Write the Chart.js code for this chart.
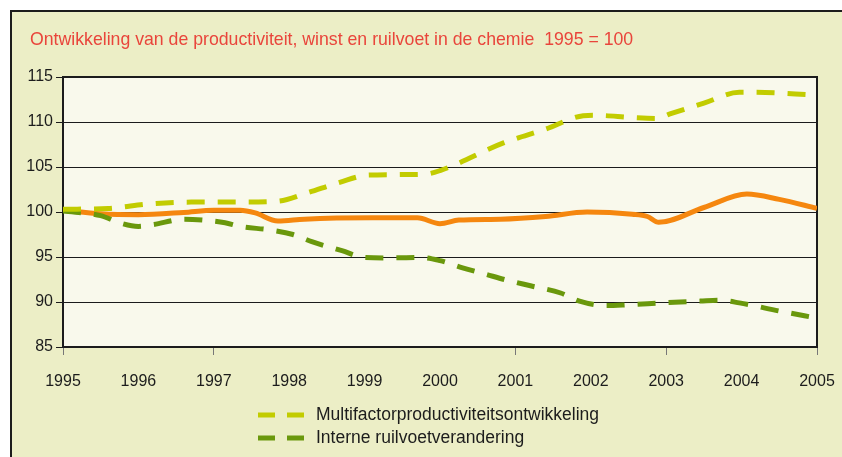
<!DOCTYPE html>
<html lang="nl">
<head>
<meta charset="UTF-8">
<title>Productiviteit chemie</title>
<script src="https://cdn.jsdelivr.net/npm/chart.js@4.4.1/dist/chart.umd.min.js"></script>
<style>
  html, body { margin: 0; background: #fff; overflow: hidden; font-family: "Liberation Sans", Arial, sans-serif; }
  #title { position: absolute; left: 30px; top: 29px; font-size: 17.7px; color: #E9453B; white-space: pre; }
  #wrap { position: absolute; left: 0; top: 0; width: 842px; height: 457px; }
  #legend { position: absolute; left: 258px; top: 403px; font-size: 17.5px; color: #1c1c1c; }
  #legend div { height: 23px; display: flex; align-items: center; }
  #legend svg { margin-right: 12px; }
</style>
<script>
// tick labels
var years = [1995, 1996, 1997, 1998, 1999, 2000, 2001, 2002, 2003, 2004, 2005];
var yTicks = [85, 90, 95, 100, 105, 110, 115];

// Multifactorproductiviteitsontwikkeling
var mfpX = [1995, 1995.6, 1996.15, 1996.7, 1997.35, 1997.85, 1998.23, 1998.67, 1999.05, 1999.8, 2000, 2000.85, 2001.4, 2001.9, 2002.05, 2002.55, 2002.87, 2003.05, 2003.5, 2003.97, 2004.15, 2005];
var mfpY = [100.3, 100.4, 100.9, 101.1, 101.1, 101.2, 102.1, 103.3, 104.1, 104.2, 104.6, 107.7, 109.2, 110.7, 110.75, 110.5, 110.4, 110.9, 112.1, 113.3, 113.3, 113.0];

// Interne ruilvoetverandering
var ruilX = [1995, 1995.5, 1995.75, 1996, 1996.2, 1996.6, 1996.85, 1997.15, 1997.35, 1997.75, 1998.05, 1998.3, 1998.7, 1999, 1999.35, 1999.75, 2000, 2000.3, 2000.6, 2000.9, 2001.2, 2001.6, 2001.85, 2002.2, 2002.5, 2002.95, 2003.45, 2003.7, 2003.97, 2004.5, 2005];
var ruilY = [100.1, 99.6, 98.8, 98.4, 98.6, 99.2, 99.1, 98.8, 98.4, 98.0, 97.5, 96.7, 95.7, 94.95, 94.9, 94.95, 94.6, 93.8, 93.1, 92.4, 91.8, 91.0, 90.1, 89.6, 89.7, 89.9, 90.1, 90.2, 89.9, 89.0, 88.2];

// winst (no legend entry)
var winstX = [1995, 1995.5, 1996, 1996.6, 1997, 1997.35, 1997.55, 1997.85, 1998.2, 1999.1, 1999.7, 2000, 2000.25, 2000.8, 2001.4, 2001.95, 2002.55, 2002.75, 2002.9, 2003.5, 2004.07, 2004.5, 2005];
var winstY = [100.2, 99.8, 99.7, 99.95, 100.2, 100.2, 99.9, 99.0, 99.2, 99.35, 99.35, 98.7, 99.1, 99.2, 99.5, 100.0, 99.75, 99.5, 98.85, 100.5, 102.0, 101.4, 100.4];

function pts(xs, ys) {
    var out = [];
    for (var i = 0; i < xs.length; i++) out.push({x: xs[i], y: ys[i]});
    return out;
}

var plotBg = {
    id: 'plotBg',
    beforeDraw: function (chart) {
        var a = chart.chartArea, c = chart.ctx;
        c.save();
        // outer frame: cream panel with a dark edge on top and left
        c.fillStyle = '#ECEEC6';
        c.fillRect(11, 11, chart.width - 11, chart.height - 11);
        c.fillStyle = '#1c1c1c';
        c.fillRect(10, 10, chart.width - 10, 2);
        c.fillRect(10, 10, 2, chart.height - 10);
        c.fillStyle = '#F9F9EC';
        c.fillRect(a.left, a.top, a.right - a.left, a.bottom - a.top);
        c.restore();
    },
    beforeDatasetsDraw: function (chart) {
        var a = chart.chartArea, c = chart.ctx;
        c.save();
        c.strokeStyle = '#1c1c1c';
        c.lineWidth = 2;
        c.strokeRect(a.left, a.top, a.right - a.left, a.bottom - a.top);
        c.restore();
    }
};

window.onload = function () {
    var tickYears = [1995, 1997, 2001, 2003, 2005];
    var series = [
        {label: 'Multifactorproductiviteitsontwikkeling', data: pts(mfpX, mfpY), color: '#C2CC00', dash: [18, 13]},
        {label: 'Interne ruilvoetverandering', data: pts(ruilX, ruilY), color: '#6A980C', dash: [18, 13]},
        {label: 'Winst', data: pts(winstX, winstY), color: '#F5870F', dash: []}
    ];
    var datasets = series.map(function (s) {
        return {
            label: s.label, data: s.data, borderColor: s.color, backgroundColor: s.color,
            borderWidth: 5, borderDash: s.dash, pointRadius: 0, fill: false,
            cubicInterpolationMode: 'monotone', borderCapStyle: 'butt'
        };
    });

    new Chart(document.getElementById('chart'), {
        type: 'line',
        data: {datasets: datasets},
        options: {
            responsive: false,
            animation: false,
            devicePixelRatio: 1,
            layout: {padding: {left: 0, top: 77, right: 25, bottom: 0}},
            plugins: {legend: {display: false}, tooltip: {enabled: false}},
            scales: {
                x: {
                    type: 'linear', min: 1995, max: 2005,
                    afterFit: function (s) { s.height = 110; s.paddingLeft = 0; s.paddingRight = 0; },
                    afterBuildTicks: function (s) { s.ticks = years.map(function (v) { return {value: v}; }); },
                    ticks: {
                        color: '#1c1c1c', padding: 17,
                        font: {family: '"Liberation Sans", Arial, sans-serif', size: 16},
                        callback: function (v) { return String(v); }
                    },
                    grid: {
                        drawOnChartArea: false, tickLength: 8,
                        tickColor: function (ctx) {
                            return ctx.tick && tickYears.indexOf(ctx.tick.value) >= 0 ? '#777' : 'rgba(0,0,0,0)';
                        }
                    },
                    border: {display: false}
                },
                y: {
                    min: 85, max: 115,
                    afterFit: function (s) { s.width = 63; s.paddingTop = 0; s.paddingBottom = 0; },
                    afterBuildTicks: function (s) { s.ticks = yTicks.map(function (v) { return {value: v}; }); },
                    ticks: {
                        color: '#1c1c1c', padding: 3,
                        font: {family: '"Liberation Sans", Arial, sans-serif', size: 16}
                    },
                    grid: {color: '#1c1c1c', lineWidth: 1, tickLength: 7, tickColor: '#1c1c1c'},
                    border: {display: false}
                }
            }
        },
        plugins: [plotBg]
    });

    var lg = document.getElementById('legend');
    series.slice(0, 2).forEach(function (s) {
        var row = document.createElement('div');
        row.innerHTML = '<svg width="46" height="6"><line x1="0" y1="3" x2="46" y2="3" stroke="' + s.color +
            '" stroke-width="5" stroke-dasharray="17 12"/></svg><span>' + s.label + '</span>';
        lg.appendChild(row);
    });
};
</script>
</head>
<body>
<div id="wrap"><canvas id="chart" width="842" height="457"></canvas></div>
<div id="title">Ontwikkeling van de productiviteit, winst en ruilvoet in de chemie  1995 = 100</div>
<div id="legend"></div>
</body>
</html>
